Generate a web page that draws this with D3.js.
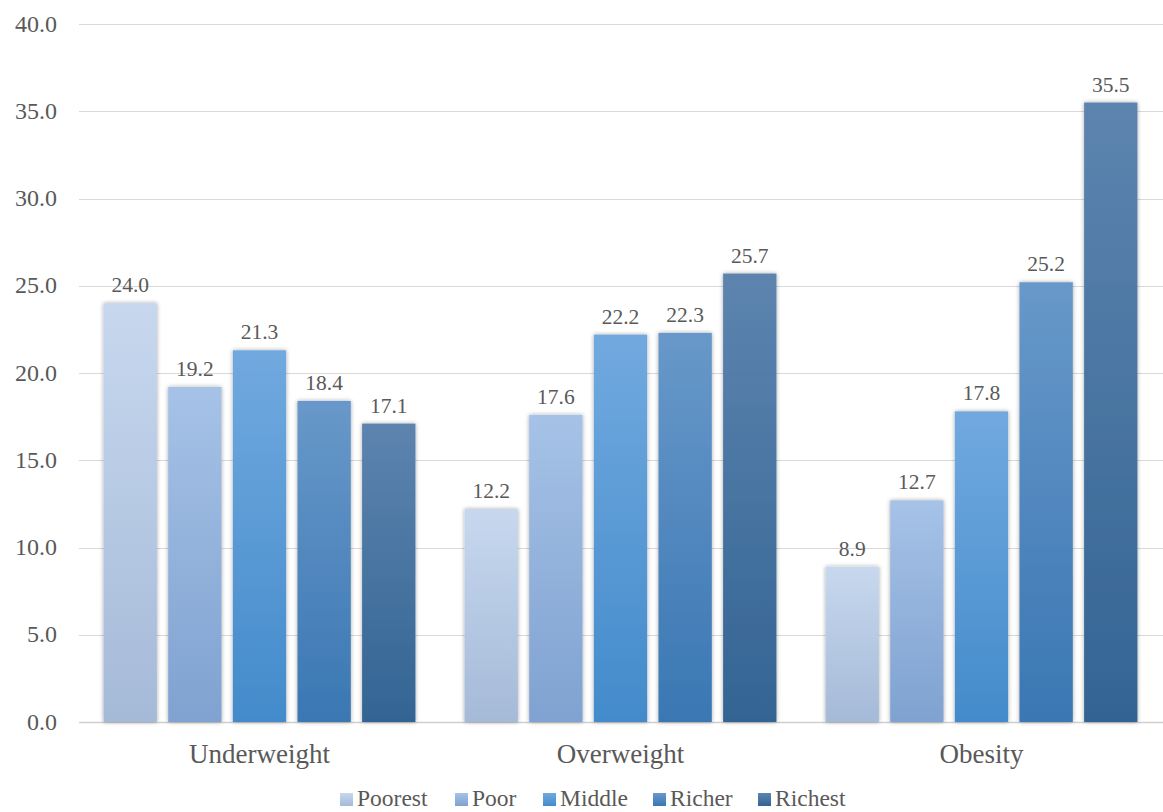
<!DOCTYPE html>
<html>
<head>
<meta charset="utf-8">
<script src="https://cdn.jsdelivr.net/npm/d3@7"></script>
<style>
  html, body { margin: 0; padding: 0; background: #ffffff; }
  svg { display: block; }
</style>
</head>
<body>
<svg id="chart" width="1163" height="812"></svg>
<script>
// Nutritional status by wealth quintile (%)
const categories = ["Underweight", "Overweight", "Obesity"];
const quintiles = ["Poorest", "Poor", "Middle", "Richer", "Richest"];
const poorest = [24.0, 12.2, 8.9];
const poor    = [19.2, 17.6, 12.7];
const middle  = [21.3, 22.2, 17.8];
const richer  = [18.4, 22.3, 25.2];
const richest = [17.1, 25.7, 35.5];
const yTicks = [0, 5, 10, 15, 20, 25, 30, 35, 40];

// top and bottom colour of each quintile's vertical gradient
const gradTop    = ["#c7d8ee", "#a6c2e7", "#71a9df", "#6898c9", "#5d84af"];
const gradBottom = ["#a5bad8", "#7fa2d0", "#438bcb", "#3a77b3", "#336493"];

const series = [poorest, poor, middle, richer, richest];

const W = 1163, H = 812;
const margin = { left: 79, right: 1, top: 24 };
const plotBottom = 722;
const FONT = "'Liberation Serif', 'Times New Roman', Times, 'DejaVu Serif', serif";

const svg = d3.select("#chart");
const defs = svg.append("defs");

quintiles.forEach((q, i) => {
  const g = defs.append("linearGradient")
    .attr("id", "grad" + i)
    .attr("x1", 0).attr("y1", 0).attr("x2", 0).attr("y2", 1);
  g.append("stop").attr("offset", "0%").attr("stop-color", gradTop[i]);
  g.append("stop").attr("offset", "100%").attr("stop-color", gradBottom[i]);
});

const shadow = defs.append("filter").attr("id", "barShadow")
  .attr("x", "-20%").attr("y", "-5%").attr("width", "140%").attr("height", "110%");
shadow.append("feDropShadow")
  .attr("dx", 0).attr("dy", 0).attr("stdDeviation", 2)
  .attr("flood-color", "#000").attr("flood-opacity", 0.35);

const y = d3.scaleLinear().domain([0, 40]).range([plotBottom, margin.top]);
const x0 = d3.scaleBand().domain(categories).range([margin.left, W - margin.right])
  .paddingInner(0).paddingOuter(0);
const x1 = d3.scaleBand().domain(quintiles).range([0, x0.bandwidth()])
  .paddingInner(0.175).paddingOuter(0.38);

function label(sel, xPos, yPos, txt, size, anchor) {
  return sel.append("text")
    .attr("x", xPos).attr("y", yPos)
    .attr("text-anchor", anchor)
    .attr("font-family", FONT)
    .attr("font-size", size)
    .attr("fill", "#595959")
    .text(txt);
}

// gridlines
const grid = svg.append("g");
yTicks.forEach(t => {
  grid.append("line")
    .attr("x1", margin.left).attr("x2", W)
    .attr("y1", Math.round(y(t)) + 0.5).attr("y2", Math.round(y(t)) + 0.5)
    .attr("stroke", t === 0 ? "#d0d0d0" : "#d9d9d9")
    .attr("stroke-width", t === 0 ? 1.5 : 1);
});

// y tick labels
const yAxisG = svg.append("g");
yTicks.forEach(t => {
  label(yAxisG, 57, y(t) + 7.5, d3.format(".1f")(t), 24, "end");
});

// bars
const groups = svg.append("g").selectAll("g")
  .data(categories)
  .join("g")
  .attr("transform", d => `translate(${x0(d)},0)`);

groups.each(function(cat, ci) {
  const g = d3.select(this);
  quintiles.forEach((q, qi) => {
    const v = series[qi][ci];
    g.append("rect")
      .attr("x", x1(q))
      .attr("y", y(v))
      .attr("width", x1.bandwidth())
      .attr("height", plotBottom - y(v))
      .attr("fill", `url(#grad${qi})`)
      .attr("filter", "url(#barShadow)");
    label(g, x1(q) + x1.bandwidth() / 2, y(v) - 11, d3.format(".1f")(v), 21.5, "middle");
  });
});

// category labels
const xAxisG = svg.append("g");
categories.forEach(c => {
  label(xAxisG, x0(c) + x0.bandwidth() / 2, 763, c, 27, "middle");
});

// legend
const legend = svg.append("g");
const legendX = [340, 455, 543, 653, 758];
quintiles.forEach((q, i) => {
  legend.append("rect")
    .attr("x", legendX[i]).attr("y", 793)
    .attr("width", 13).attr("height", 13)
    .attr("fill", `url(#grad${i})`);
  label(legend, legendX[i] + 17, 806, q, 23.5, "start");
});
</script>
</body>
</html>
